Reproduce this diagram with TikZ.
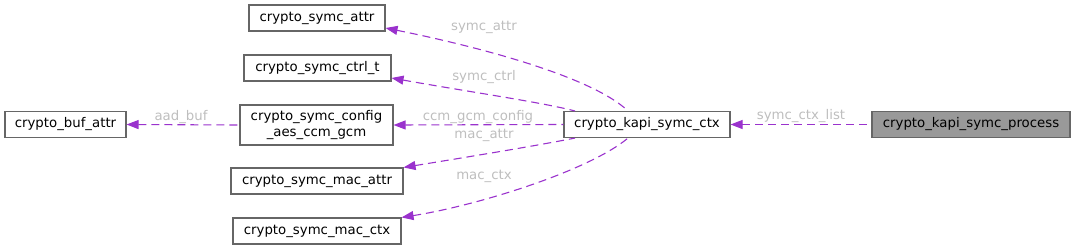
\documentclass[tikz,border=0pt]{standalone}
\usepackage{fontspec}
\setmainfont{DejaVu Sans}
\usetikzlibrary{arrows.meta,positioning}
\usepackage{xcolor}
\definecolor{cedge}{HTML}{9A32CD}
\definecolor{clabel}{HTML}{BEBEBE}
\definecolor{cborder}{HTML}{666666}
\definecolor{cmain}{HTML}{999999}

\begin{document}
\begin{tikzpicture}[x=1pt, y=-1pt,
    box/.style={draw=cborder, line width=1.1pt, fill=white, inner sep=0pt,
                minimum height=26pt, font=\fontsize{13.3}{15.5}\selectfont, align=center},
    edge/.style={draw=cedge, line width=1.1pt, dash pattern=on 8pt off 5pt,
                 {Triangle[length=12pt,width=9pt,fill=cedge]}-},
    elabel/.style={text=clabel, font=\fontsize{13.3}{15.5}\selectfont, inner sep=0pt}]
  \useasboundingbox (0,0) rectangle (1075,249);

  % nodes
  \node[box, minimum width=198pt, fill=cmain] (process) at (971,124.5) {crypto\_kapi\_symc\_process};
  \node[box, minimum width=166pt] (kapictx) at (647,124.5) {crypto\_kapi\_symc\_ctx};
  \node[box, minimum width=136pt] (symcattr) at (317,18) {crypto\_symc\_attr};
  \node[box, minimum width=147pt] (symcctrl) at (317.5,68) {crypto\_symc\_ctrl\_t};
  \node[box, minimum width=153pt, minimum height=40pt] (aesccm) at (316.5,125)
    {crypto\_symc\_config\\\_aes\_ccm\_gcm};
  \node[box, minimum width=121pt] (bufattr) at (65.5,124.5) {crypto\_buf\_attr};
  \node[box, minimum width=172pt] (macattr) at (317,181) {crypto\_symc\_mac\_attr};
  \node[box, minimum width=168pt] (macctx) at (317,231) {crypto\_symc\_mac\_ctx};

  % connectors
  \draw[edge] (kapictx.east) -- (process.west)
    node[elabel, pos=0.5, above=1pt] {symc\_ctx\_list};
  \draw[edge] (symcattr.east |- 0,28) .. controls (470,45) and (590,75) .. (kapictx.north -| 628,0);
  \draw[edge] (symcctrl.east |- 0,78) .. controls (470,92) and (540,102) .. (kapictx.north -| 575,0);
  \draw[edge] (aesccm.east) -- (kapictx.west);
  \draw[edge] (macattr.north east) .. controls (480,155) and (540,145) .. (kapictx.south -| 575,0);
  \draw[edge] (macctx.north east) .. controls (480,205) and (590,170) .. (kapictx.south -| 628,0);
  \draw[edge] (bufattr.east) -- (aesccm.west);

  % labels
  \node[elabel] (lattr) at (484,27) {symc\_attr};
  \node[elabel] (lctrl) at (484,77) {symc\_ctrl};
  \node[elabel] (lccm) at (478,117) {ccm\_gcm\_config};
  \node[elabel] (lmacattr) at (484,135) {mac\_attr};
  \node[elabel] (lmacctx) at (484,176) {mac\_ctx};
  \node[elabel] (laad) at (181,117) {aad\_buf};
\end{tikzpicture}
\end{document}
